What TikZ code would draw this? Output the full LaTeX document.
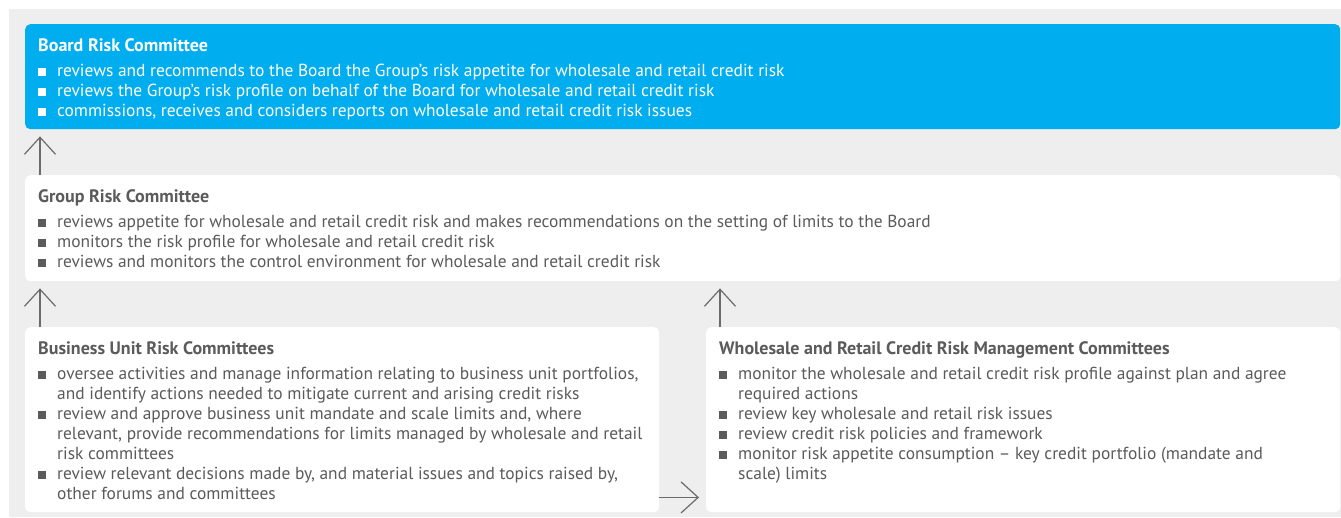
\documentclass[tikz,border=0pt]{standalone}
\usepackage{fontspec}
\setmainfont{PT Sans}
\usepackage{tikz}
\usetikzlibrary{arrows.meta}
\usetikzlibrary{calc}
\definecolor{brcblue}{HTML}{00AEEF}
\definecolor{panelgray}{HTML}{EEEEEE}
\definecolor{textgray}{HTML}{5B5B5B}
\definecolor{arrowgray}{HTML}{6B6B6B}
\newcommand{\bitem}{\par\hangindent=19pt\hangafter=1\noindent\makebox[19pt][l]{\rule{8pt}{8pt}}}
\newcommand{\boxhead}[1]{\rule{0pt}{27pt}{\fontsize{18}{20}\selectfont\textbf{#1}}\par\vspace{5pt}}
\newcommand{\boxbody}[3]{\begin{minipage}[t][#2][t]{#1}\fontsize{17.4}{20}\selectfont\raggedright\leftskip=13pt #3\end{minipage}}

\begin{document}
\begin{tikzpicture}[x=1pt,y=1pt]

\tikzstyle{bluebox}=[rectangle, fill=brcblue, text=white, rounded corners=5pt, inner sep=0pt, anchor=north west]
\tikzstyle{whitebox}=[rectangle, fill=white, text=textgray, rounded corners=5pt, inner sep=0pt, anchor=north west]
\tikzstyle{upto}=[draw=arrowgray, line width=1.2pt, -{Straight Barb[length=17pt,width=31pt]}]

\useasboundingbox (0,0) rectangle (1341,-517);
\fill[panelgray] (9,-9) rectangle (1341,-517);

\node[bluebox] at (25,-24) (BoardRC) {\boxbody{1315pt}{105pt}{%
\boxhead{Board Risk Committee}
\bitem reviews and recommends to the Board the Group’s risk appetite for wholesale and retail credit risk
\bitem reviews the Group’s risk profile on behalf of the Board for wholesale and retail credit risk
\bitem commissions, receives and considers reports on wholesale and retail credit risk issues}};

\node[whitebox] at (25,-175) (GroupRC) {\boxbody{1315pt}{106pt}{%
\boxhead{Group Risk Committee}
\bitem reviews appetite for wholesale and retail credit risk and makes recommendations on the setting of limits to the Board
\bitem monitors the risk profile for wholesale and retail credit risk
\bitem reviews and monitors the control environment for wholesale and retail credit risk}};

\node[whitebox] at (25,-327) (BusinessRC) {\boxbody{634pt}{185pt}{%
\boxhead{Business Unit Risk Committees}
\bitem oversee activities and manage information relating to business unit portfolios,\newline
and identify actions needed to mitigate current and arising credit risks
\bitem review and approve business unit mandate and scale limits and, where\newline
relevant, provide recommendations for limits managed by wholesale and retail\newline
risk committees
\bitem review relevant decisions made by, and material issues and topics raised by,\newline
other forums and committees}};

\node[whitebox] at (706,-327) (WholesaleRC) {\boxbody{634pt}{185pt}{%
\boxhead{Wholesale and Retail Credit Risk Management Committees}
\bitem monitor the wholesale and retail credit risk profile against plan and agree\newline
required actions
\bitem review key wholesale and retail risk issues
\bitem review credit risk policies and framework
\bitem monitor risk appetite consumption – key credit portfolio (mandate and\newline
scale) limits}};

% reporting lines
\coordinate (wrcUp) at ([xshift=14pt]WholesaleRC.north west);
\draw[upto] ([xshift=15pt]GroupRC.north west) to ([xshift=15pt,yshift=-7pt]BoardRC.south west);
\draw[upto] ([xshift=15pt]BusinessRC.north west) to ([xshift=15pt,yshift=-7pt]GroupRC.south west);
\draw[upto] (wrcUp) to ($(wrcUp |- GroupRC.south)+(0,-7)$);
\draw[upto] ([yshift=15pt]BusinessRC.south east) to ([xshift=-7pt,yshift=15pt]WholesaleRC.south west);

\end{tikzpicture}
\end{document}
